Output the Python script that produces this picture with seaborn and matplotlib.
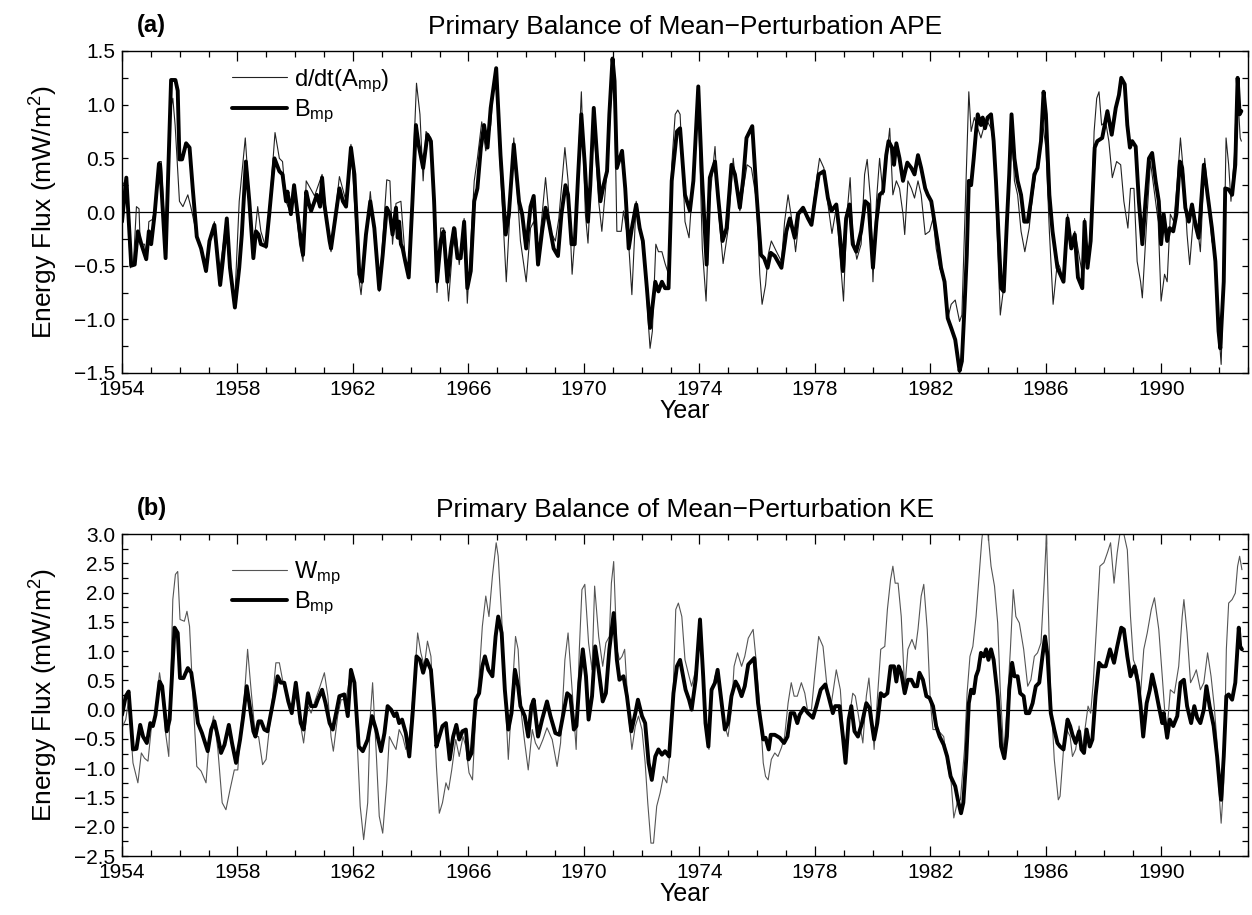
import numpy as np
import pandas as pd
import matplotlib
matplotlib.use("Agg")
import matplotlib.pyplot as plt
from matplotlib.ticker import MultipleLocator, FixedLocator
import seaborn as sns

# ---------------- data (year, mW/m^2) ----------------
a_ddt = [
(1954.00,-0.03),(1954.03,0.25),(1954.15,0.32),(1954.29,-0.52),(1954.40,-0.46),(1954.50,0.05),(1954.59,0.03),
(1954.63,-0.30),(1954.78,-0.30),(1954.86,-0.40),(1954.93,-0.09),(1955.05,-0.07),(1955.16,0.04),(1955.28,0.47),
(1955.36,0.47),(1955.51,-0.34),(1955.65,0.91),(1955.76,1.06),(1955.84,0.81),(1955.99,0.10),(1956.11,0.05),
(1956.28,0.16),(1956.39,0.04),(1956.59,-0.21),(1956.80,-0.40),(1956.91,-0.52),(1957.03,-0.30),(1957.20,-0.09),
(1957.35,-0.61),(1957.49,-0.34),(1957.60,-0.09),(1957.72,-0.52),(1957.91,-0.80),(1958.06,0.10),(1958.27,0.69),
(1958.41,0.13),(1958.55,-0.34),(1958.70,0.05),(1958.81,-0.18),(1958.99,-0.34),(1959.10,0.01),(1959.30,0.74),
(1959.45,0.50),(1959.56,0.47),(1959.68,0.10),(1959.85,-0.02),(1959.96,0.22),(1960.15,-0.30),(1960.27,-0.46),
(1960.38,0.29),(1960.67,0.15),(1960.93,0.35),(1961.19,-0.30),(1961.24,-0.37),(1961.53,0.33),(1961.76,0.10),
(1961.93,0.63),(1962.22,-0.65),(1962.28,-0.77),(1962.60,0.19),(1962.91,-0.74),(1963.17,0.30),(1963.28,0.29),
(1963.37,-0.30),(1963.49,0.08),(1963.66,0.10),(1963.81,-0.43),(1963.93,-0.61),(1964.20,1.20),(1964.32,0.91),
(1964.43,0.29),(1964.53,0.75),(1964.70,0.69),(1964.91,-0.75),(1965.04,-0.15),(1965.14,-0.15),(1965.31,-0.83),
(1965.45,-0.34),(1965.56,-0.15),(1965.68,-0.49),(1965.85,-0.06),(1965.96,-0.85),(1966.20,0.29),(1966.31,0.50),
(1966.46,0.84),(1966.60,0.57),(1966.77,0.81),(1966.89,1.25),(1966.96,1.31),(1967.11,0.38),(1967.31,-0.65),
(1967.57,0.69),(1967.80,-0.27),(1968.00,-0.65),(1968.15,-0.15),(1968.26,-0.09),(1968.44,-0.34),(1968.67,0.32),
(1968.84,-0.18),(1969.01,-0.27),(1969.13,-0.06),(1969.34,0.60),(1969.45,0.29),(1969.59,-0.58),(1969.70,-0.18),
(1969.91,1.12),(1970.05,-0.02),(1970.14,-0.29),(1970.34,0.81),(1970.51,0.10),(1970.62,-0.18),(1970.80,0.38),
(1970.97,1.22),(1971.06,1.03),(1971.14,-0.18),(1971.29,-0.18),(1971.37,0.01),(1971.55,-0.30),(1971.66,-0.77),
(1971.81,0.10),(1971.95,-0.18),(1972.12,-0.43),(1972.21,-0.96),(1972.29,-1.27),(1972.37,-1.11),(1972.49,-0.30),
(1972.58,-0.37),(1972.70,-0.37),(1972.81,-0.48),(1972.93,-0.58),(1973.04,0.44),(1973.16,0.91),(1973.25,0.95),
(1973.33,0.91),(1973.45,0.22),(1973.50,-0.09),(1973.64,-0.24),(1973.79,0.35),(1973.96,1.03),(1974.10,-0.34),
(1974.23,-0.83),(1974.36,0.13),(1974.54,0.61),(1974.67,-0.02),(1974.82,-0.48),(1975.00,-0.15),(1975.17,0.50),
(1975.28,0.22),(1975.40,0.01),(1975.52,0.22),(1975.65,0.44),(1975.80,0.41),(1975.98,0.10),(1976.09,-0.58),
(1976.17,-0.86),(1976.29,-0.68),(1976.38,-0.40),(1976.49,-0.27),(1976.67,-0.37),(1976.84,-0.46),(1976.95,-0.09),
(1977.07,0.16),(1977.24,-0.15),(1977.33,-0.37),(1977.47,-0.02),(1977.62,0.02),(1977.88,-0.09),(1978.05,0.29),
(1978.16,0.50),(1978.31,0.41),(1978.45,0.07),(1978.59,-0.20),(1978.74,0.04),(1978.85,-0.34),(1978.99,-0.83),
(1979.11,-0.02),(1979.22,0.32),(1979.31,-0.21),(1979.45,-0.44),(1979.60,-0.30),(1979.72,0.35),(1979.81,0.49),
(1979.93,0.10),(1980.01,-0.65),(1980.13,0.10),(1980.24,0.50),(1980.36,0.16),(1980.47,0.47),(1980.59,0.78),
(1980.70,0.16),(1980.82,0.29),(1980.93,0.22),(1981.05,-0.02),(1981.11,-0.21),(1981.22,0.29),(1981.34,0.22),
(1981.45,0.13),(1981.57,0.29),(1981.68,0.16),(1981.82,-0.21),(1981.97,-0.18),(1982.09,-0.06),(1982.20,-0.34),
(1982.32,-0.52),(1982.49,-0.65),(1982.60,-0.99),(1982.72,-0.86),(1982.86,-0.82),(1983.01,-1.02),(1983.09,-0.96),
(1983.18,-0.18),(1983.26,0.53),(1983.33,1.12),(1983.41,0.75),(1983.52,0.88),(1983.64,0.78),(1983.75,0.69),
(1983.87,0.81),(1983.98,0.84),(1984.10,0.78),(1984.22,0.60),(1984.33,-0.34),(1984.42,-0.96),(1984.56,-0.65),
(1984.68,0.10),(1984.81,0.84),(1984.91,0.29),(1985.02,0.16),(1985.14,-0.18),(1985.27,-0.37),(1985.42,-0.15),
(1985.54,0.16),(1985.65,0.35),(1985.77,0.47),(1985.88,0.84),(1986.00,0.60),(1986.12,-0.18),(1986.25,-0.86),
(1986.40,-0.46),(1986.49,-0.52),(1986.61,-0.65),(1986.75,-0.02),(1986.88,-0.27),(1987.00,-0.18),(1987.11,-0.34),
(1987.26,-0.58),(1987.34,-0.06),(1987.44,-0.40),(1987.55,-0.27),(1987.67,0.75),(1987.76,1.06),(1987.84,1.12),
(1987.93,0.81),(1988.07,0.84),(1988.18,0.66),(1988.30,0.32),(1988.45,0.47),(1988.59,0.44),(1988.70,0.10),
(1988.84,-0.15),(1988.93,0.22),(1989.05,0.22),(1989.16,-0.46),(1989.28,-0.65),(1989.34,-0.80),(1989.49,-0.09),
(1989.62,0.47),(1989.77,0.16),(1989.89,-0.09),(1989.99,-0.83),(1990.11,-0.58),(1990.20,-0.65),(1990.31,-0.02),
(1990.43,-0.09),(1990.55,0.29),(1990.66,0.69),(1990.78,0.32),(1990.89,-0.21),(1990.98,-0.49),(1991.12,-0.02),
(1991.24,-0.12),(1991.35,-0.37),(1991.50,0.50),(1991.64,0.10),(1991.75,-0.27),(1991.87,-0.40),(1991.98,-1.08),
(1992.07,-1.42),(1992.16,-0.58),(1992.24,0.69),(1992.33,0.44),(1992.41,0.10),(1992.53,0.53),(1992.62,1.22),
(1992.68,0.94),(1992.73,0.69),(1992.77,0.66)]

a_bmp = [
(1954.00,-0.09),(1954.15,0.32),(1954.32,-0.50),(1954.44,-0.49),(1954.55,-0.18),(1954.67,-0.30),(1954.84,-0.44),
(1954.93,-0.18),(1955.01,-0.30),(1955.13,-0.02),(1955.28,0.45),(1955.32,0.44),(1955.51,-0.43),(1955.70,1.23),
(1955.85,1.23),(1955.93,1.13),(1955.99,0.49),(1956.08,0.49),(1956.22,0.64),(1956.34,0.60),(1956.45,0.22),
(1956.59,-0.23),(1956.74,-0.34),(1956.91,-0.55),(1957.03,-0.27),(1957.20,-0.12),(1957.28,-0.34),(1957.40,-0.68),
(1957.49,-0.46),(1957.63,-0.06),(1957.74,-0.52),(1957.91,-0.89),(1958.06,-0.52),(1958.15,-0.21),(1958.29,0.47),
(1958.41,0.10),(1958.55,-0.43),(1958.64,-0.18),(1958.73,-0.21),(1958.81,-0.30),(1958.99,-0.32),(1959.10,-0.02),
(1959.28,0.50),(1959.45,0.38),(1959.56,0.35),(1959.68,0.10),(1959.73,0.19),(1959.85,-0.02),(1959.96,0.25),
(1960.14,-0.15),(1960.27,-0.40),(1960.38,0.19),(1960.47,0.08),(1960.55,0.01),(1960.67,0.10),(1960.75,0.16),
(1960.86,0.05),(1960.93,0.32),(1961.01,0.07),(1961.19,-0.27),(1961.24,-0.34),(1961.42,0.01),(1961.53,0.22),
(1961.65,0.10),(1961.76,0.05),(1961.93,0.60),(1962.05,0.35),(1962.22,-0.58),(1962.31,-0.65),(1962.45,-0.21),
(1962.60,0.10),(1962.74,-0.15),(1962.91,-0.72),(1963.03,-0.40),(1963.17,0.04),(1963.28,-0.02),(1963.37,-0.21),
(1963.49,0.04),(1963.55,-0.24),(1963.60,-0.09),(1963.66,-0.30),(1963.72,-0.34),(1963.81,-0.46),(1963.93,-0.61),
(1964.06,0.10),(1964.18,0.81),(1964.27,0.63),(1964.43,0.41),(1964.58,0.72),(1964.70,0.66),(1964.81,0.10),
(1964.91,-0.65),(1965.04,-0.27),(1965.14,-0.18),(1965.27,-0.65),(1965.39,-0.34),(1965.50,-0.15),(1965.62,-0.43),
(1965.73,-0.43),(1965.85,-0.09),(1965.96,-0.71),(1966.08,-0.55),(1966.20,0.10),(1966.31,0.22),(1966.43,0.60),
(1966.54,0.81),(1966.66,0.60),(1966.77,0.97),(1966.96,1.34),(1967.11,0.53),(1967.29,-0.21),(1967.40,-0.02),
(1967.57,0.63),(1967.75,0.10),(1967.86,-0.02),(1968.00,-0.34),(1968.15,0.05),(1968.26,0.15),(1968.41,-0.49),
(1968.55,-0.18),(1968.67,0.04),(1968.78,-0.09),(1968.95,-0.34),(1969.10,-0.41),(1969.22,-0.02),(1969.36,0.25),
(1969.45,0.16),(1969.57,-0.30),(1969.68,-0.30),(1969.80,0.35),(1969.91,0.91),(1970.03,0.44),(1970.14,-0.09),
(1970.22,0.25),(1970.34,0.97),(1970.45,0.53),(1970.57,0.10),(1970.68,0.25),(1970.80,0.38),(1970.88,0.91),
(1970.99,1.43),(1971.06,1.22),(1971.14,0.41),(1971.32,0.57),(1971.43,0.22),(1971.55,-0.34),(1971.66,-0.15),
(1971.81,0.07),(1971.93,-0.15),(1972.04,-0.27),(1972.18,-0.71),(1972.29,-1.08),(1972.37,-0.89),(1972.47,-0.65),
(1972.58,-0.74),(1972.70,-0.65),(1972.81,-0.71),(1972.93,-0.71),(1973.04,0.29),(1973.22,0.75),(1973.33,0.78),
(1973.50,0.16),(1973.67,0.01),(1973.79,0.29),(1973.96,1.17),(1974.08,0.38),(1974.25,-0.49),(1974.36,0.32),
(1974.54,0.47),(1974.65,0.13),(1974.80,-0.27),(1974.94,-0.15),(1975.11,0.44),(1975.23,0.35),(1975.40,0.04),
(1975.52,0.32),(1975.63,0.69),(1975.83,0.80),(1975.98,0.16),(1976.13,-0.40),(1976.24,-0.43),(1976.36,-0.52),
(1976.47,-0.38),(1976.61,-0.41),(1976.84,-0.52),(1977.01,-0.18),(1977.13,-0.06),(1977.30,-0.24),(1977.41,-0.02),
(1977.59,0.04),(1977.76,-0.06),(1977.88,-0.12),(1978.01,0.13),(1978.13,0.35),(1978.31,0.38),(1978.45,0.13),
(1978.57,0.01),(1978.74,0.07),(1978.85,-0.18),(1978.97,-0.55),(1979.08,-0.06),(1979.20,0.07),(1979.31,-0.30),
(1979.43,-0.37),(1979.60,-0.18),(1979.74,0.10),(1979.86,0.07),(1980.01,-0.52),(1980.13,-0.09),(1980.24,0.16),
(1980.36,0.19),(1980.47,0.53),(1980.55,0.66),(1980.67,0.60),(1980.74,0.44),(1980.82,0.64),(1980.93,0.50),
(1981.05,0.29),(1981.20,0.46),(1981.34,0.41),(1981.45,0.35),(1981.57,0.53),(1981.68,0.41),(1981.82,0.22),
(1981.91,0.16),(1982.03,0.10),(1982.14,-0.09),(1982.26,-0.30),(1982.37,-0.52),(1982.49,-0.65),(1982.60,-0.99),
(1982.72,-1.08),(1982.86,-1.19),(1982.95,-1.36),(1983.01,-1.48),(1983.09,-1.39),(1983.18,-0.89),(1983.26,-0.40),
(1983.33,0.29),(1983.41,0.25),(1983.50,0.50),(1983.58,0.75),(1983.64,0.91),(1983.75,0.81),(1983.81,0.88),
(1983.89,0.78),(1983.98,0.88),(1984.10,0.91),(1984.19,0.66),(1984.27,0.29),(1984.37,-0.27),(1984.45,-0.71),
(1984.54,-0.74),(1984.65,-0.09),(1984.73,0.35),(1984.81,0.91),(1984.91,0.50),(1985.02,0.29),(1985.14,0.16),
(1985.25,-0.09),(1985.37,-0.09),(1985.48,0.10),(1985.60,0.35),(1985.71,0.41),(1985.83,0.66),(1985.92,1.12),
(1986.00,0.91),(1986.12,0.16),(1986.23,-0.18),(1986.40,-0.52),(1986.61,-0.65),(1986.75,-0.06),(1986.88,-0.34),
(1987.00,-0.21),(1987.11,-0.61),(1987.26,-0.71),(1987.34,-0.09),(1987.44,-0.52),(1987.55,-0.27),(1987.69,0.60),
(1987.78,0.66),(1987.95,0.69),(1988.13,0.94),(1988.28,0.72),(1988.42,0.97),(1988.53,1.09),(1988.61,1.25),
(1988.73,1.19),(1988.82,0.81),(1988.91,0.60),(1988.99,0.66),(1989.11,0.61),(1989.22,0.10),(1989.34,-0.30),
(1989.45,0.10),(1989.57,0.50),(1989.68,0.55),(1989.80,0.29),(1989.91,0.10),(1989.99,-0.30),(1990.08,-0.02),
(1990.20,-0.27),(1990.29,-0.15),(1990.41,-0.18),(1990.52,-0.02),(1990.64,0.47),(1990.72,0.41),(1990.83,0.04),
(1990.95,-0.09),(1991.06,0.07),(1991.18,-0.12),(1991.29,-0.24),(1991.47,0.44),(1991.60,0.16),(1991.75,-0.15),
(1991.87,-0.46),(1991.98,-1.11),(1992.04,-1.27),(1992.16,-0.65),(1992.21,0.22),(1992.33,0.21),(1992.45,0.16),
(1992.56,0.44),(1992.64,1.25),(1992.71,0.91),(1992.77,0.94)]

b_wmp = [
(1954.00,-0.31),(1954.13,-0.17),(1954.23,0.17),(1954.38,-0.91),(1954.55,-1.25),(1954.67,-0.74),(1954.78,-0.83),
(1954.90,-0.88),(1955.01,-0.34),(1955.13,-0.17),(1955.30,0.63),(1955.39,0.34),(1955.51,-0.40),(1955.62,-0.80),
(1955.76,1.88),(1955.85,2.31),(1955.93,2.36),(1956.01,1.54),(1956.16,1.51),(1956.25,1.68),(1956.34,1.42),
(1956.45,0.28),(1956.59,-0.97),(1956.74,-1.05),(1956.91,-1.25),(1957.03,-0.46),(1957.17,-0.11),(1957.32,-0.68),
(1957.47,-1.59),(1957.60,-1.71),(1957.74,-1.37),(1957.89,-1.03),(1958.01,-1.03),(1958.12,-0.28),(1958.24,0.23),
(1958.35,1.03),(1958.47,0.34),(1958.62,-0.46),(1958.73,-0.46),(1958.87,-0.94),(1958.99,-0.85),(1959.10,-0.34),
(1959.22,0.23),(1959.33,0.80),(1959.45,0.80),(1959.56,0.51),(1959.68,0.28),(1959.79,0.06),(1959.91,0.11),
(1960.02,0.40),(1960.19,-0.28),(1960.29,-0.57),(1960.44,0.06),(1960.55,-0.06),(1960.70,0.17),(1960.86,0.40),
(1961.01,0.63),(1961.13,0.23),(1961.24,-0.46),(1961.32,-0.71),(1961.47,-0.11),(1961.59,0.17),(1961.76,0.17),
(1961.93,0.68),(1962.05,0.46),(1962.17,-0.80),(1962.25,-1.65),(1962.37,-2.22),(1962.51,-1.59),(1962.60,-0.11),
(1962.68,0.46),(1962.80,-0.68),(1962.91,-1.82),(1963.03,-2.11),(1963.17,-1.25),(1963.26,-0.46),(1963.37,-0.57),
(1963.49,-0.68),(1963.60,-0.34),(1963.72,-0.46),(1963.83,-0.68),(1963.95,-0.46),(1964.12,0.46),(1964.24,1.31),
(1964.35,0.97),(1964.47,0.74),(1964.58,1.17),(1964.70,0.91),(1964.81,-0.11),(1964.89,-0.97),(1964.99,-1.77),
(1965.10,-1.59),(1965.22,-1.25),(1965.31,-1.37),(1965.42,-1.03),(1965.56,-0.51),(1965.68,-0.80),(1965.81,-0.46),
(1965.91,-0.63),(1966.02,-1.08),(1966.14,-1.20),(1966.25,-0.11),(1966.37,0.57),(1966.48,1.42),(1966.60,1.94),
(1966.71,1.59),(1966.83,2.28),(1966.96,2.85),(1967.03,2.62),(1967.15,1.59),(1967.26,0.34),(1967.38,-0.85),
(1967.52,0.34),(1967.63,1.25),(1967.72,1.03),(1967.84,-0.11),(1967.95,-0.57),(1968.07,-1.03),(1968.21,-0.34),
(1968.32,-0.57),(1968.44,-0.68),(1968.58,-0.51),(1968.72,-0.31),(1968.90,-0.51),(1969.07,-0.97),(1969.19,-0.57),
(1969.34,0.85),(1969.45,1.31),(1969.59,0.34),(1969.73,-0.68),(1969.84,1.03),(1969.93,2.05),(1970.03,2.14),
(1970.16,1.14),(1970.28,0.68),(1970.37,2.11),(1970.51,1.25),(1970.65,0.74),(1970.76,1.14),(1970.88,1.25),
(1970.95,2.16),(1971.03,2.53),(1971.14,1.03),(1971.23,0.85),(1971.32,0.91),(1971.41,1.03),(1971.55,-0.11),
(1971.66,-0.68),(1971.78,-0.28),(1971.89,-0.11),(1972.01,-0.34),(1972.12,-0.91),(1972.21,-1.59),(1972.32,-2.28),
(1972.41,-2.28),(1972.52,-1.65),(1972.64,-1.42),(1972.75,-1.14),(1972.87,-1.25),(1972.99,-0.68),(1973.10,0.46),
(1973.18,1.71),(1973.27,1.82),(1973.39,1.59),(1973.50,0.85),(1973.64,0.57),(1973.73,0.40),(1973.87,0.68),
(1974.02,1.42),(1974.13,0.34),(1974.25,-0.46),(1974.33,-0.68),(1974.42,0.23),(1974.54,0.57),(1974.63,0.68),
(1974.77,0.11),(1974.88,-0.28),(1974.99,-0.46),(1975.11,0.00),(1975.20,0.74),(1975.32,0.97),(1975.46,0.74),
(1975.57,0.91),(1975.69,1.22),(1975.86,1.37),(1975.95,0.91),(1976.09,0.06),(1976.21,-0.91),(1976.29,-1.14),
(1976.38,-1.20),(1976.49,-0.85),(1976.61,-0.74),(1976.72,-0.80),(1976.84,-0.65),(1976.95,-0.46),(1977.07,0.11),
(1977.18,0.46),(1977.28,0.23),(1977.39,0.23),(1977.53,0.46),(1977.65,0.28),(1977.74,0.00),(1977.88,0.00),
(1977.99,0.57),(1978.13,1.25),(1978.28,1.08),(1978.43,0.34),(1978.57,0.11),(1978.74,0.68),(1978.88,0.34),
(1978.99,-0.46),(1979.08,-0.91),(1979.20,-0.11),(1979.31,0.28),(1979.40,0.23),(1979.55,-0.23),(1979.66,-0.57),
(1979.78,0.23),(1979.87,0.54),(1979.96,0.00),(1980.05,-0.68),(1980.16,0.17),(1980.28,1.03),(1980.42,1.08),
(1980.51,1.71),(1980.62,2.22),(1980.70,2.45),(1980.78,2.16),(1980.88,2.16),(1980.99,1.59),(1981.11,0.34),
(1981.22,1.03),(1981.36,1.20),(1981.48,1.03),(1981.57,1.37),(1981.68,1.94),(1981.77,2.14),(1981.89,1.37),
(1982.00,0.11),(1982.09,-0.34),(1982.20,-0.34),(1982.35,-0.40),(1982.46,-0.46),(1982.60,-0.97),(1982.72,-1.25),
(1982.81,-1.85),(1982.93,-1.59),(1983.04,-1.54),(1983.18,-0.68),(1983.27,0.28),(1983.37,0.91),(1983.47,1.08),
(1983.58,1.59),(1983.70,2.39),(1983.78,2.90),(1983.87,3.30),(1983.97,3.15),(1984.10,2.45),(1984.22,2.11),
(1984.33,1.48),(1984.42,0.34),(1984.54,-0.74),(1984.65,0.00),(1984.77,1.03),(1984.87,2.05),(1984.96,1.59),
(1985.08,1.48),(1985.23,1.03),(1985.37,0.40),(1985.48,0.51),(1985.60,0.91),(1985.71,0.97),(1985.83,1.14),
(1985.94,2.16),(1986.02,3.00),(1986.15,0.46),(1986.29,-0.85),(1986.43,-1.54),(1986.49,-1.48),(1986.61,-0.68),
(1986.72,-0.34),(1986.84,-0.46),(1986.92,-0.80),(1987.03,-0.68),(1987.15,-0.28),(1987.26,-0.68),(1987.38,-0.23),
(1987.46,0.06),(1987.55,-0.06),(1987.64,0.46),(1987.76,1.48),(1987.87,2.45),(1988.01,2.51),(1988.13,2.68),
(1988.24,2.85),(1988.36,2.16),(1988.47,2.68),(1988.59,3.10),(1988.70,3.00),(1988.82,2.73),(1988.93,1.59),
(1989.03,0.85),(1989.16,0.68),(1989.28,0.28),(1989.39,1.03),(1989.51,1.31),(1989.65,1.71),(1989.76,1.91),
(1989.91,1.37),(1990.03,0.57),(1990.18,-0.46),(1990.31,0.34),(1990.45,0.28),(1990.60,0.74),(1990.72,1.59),
(1990.78,1.88),(1990.89,1.31),(1991.01,0.46),(1991.12,0.57),(1991.21,0.68),(1991.35,0.34),(1991.47,0.46),
(1991.60,0.97),(1991.72,0.57),(1991.83,0.06),(1991.93,-0.57),(1991.99,-1.37),(1992.07,-1.94),(1992.16,-1.25),
(1992.25,1.03),(1992.33,1.82),(1992.45,1.88),(1992.56,1.99),(1992.64,2.45),(1992.71,2.62),(1992.79,2.39)]

b_bmp = [
(1954.00,-0.09),(1954.13,0.23),(1954.23,0.31),(1954.38,-0.68),(1954.50,-0.67),(1954.63,-0.26),(1954.73,-0.46),
(1954.86,-0.57),(1954.98,-0.23),(1955.07,-0.28),(1955.16,-0.09),(1955.30,0.48),(1955.39,0.40),(1955.55,-0.37),
(1955.65,-0.17),(1955.82,1.40),(1955.93,1.31),(1956.01,0.54),(1956.13,0.54),(1956.28,0.71),(1956.40,0.63),
(1956.51,0.23),(1956.63,-0.23),(1956.77,-0.40),(1956.97,-0.71),(1957.09,-0.34),(1957.20,-0.20),(1957.32,-0.46),
(1957.43,-0.74),(1957.55,-0.60),(1957.70,-0.26),(1957.81,-0.57),(1957.95,-0.91),(1958.09,-0.51),(1958.20,-0.11),
(1958.32,0.40),(1958.41,0.11),(1958.55,-0.37),(1958.62,-0.46),(1958.73,-0.20),(1958.82,-0.20),(1958.93,-0.34),
(1959.04,-0.37),(1959.16,-0.06),(1959.27,0.23),(1959.39,0.57),(1959.50,0.46),(1959.62,0.46),(1959.76,0.14),
(1959.88,-0.06),(1960.02,0.46),(1960.19,-0.23),(1960.29,-0.34),(1960.44,0.28),(1960.55,0.06),(1960.70,0.06),
(1960.78,0.17),(1960.93,0.34),(1961.05,0.11),(1961.19,-0.23),(1961.30,-0.34),(1961.44,0.00),(1961.53,0.23),
(1961.70,0.26),(1961.82,-0.11),(1961.93,0.68),(1962.05,0.46),(1962.20,-0.63),(1962.34,-0.71),(1962.51,-0.51),
(1962.66,-0.11),(1962.80,-0.34),(1962.97,-0.71),(1963.09,-0.40),(1963.20,0.06),(1963.32,0.00),(1963.43,-0.11),
(1963.51,-0.06),(1963.60,-0.23),(1963.70,-0.17),(1963.83,-0.40),(1963.95,-0.80),(1964.06,-0.11),(1964.20,0.91),
(1964.32,0.85),(1964.43,0.63),(1964.55,0.85),(1964.70,0.68),(1964.81,0.00),(1964.89,-0.63),(1964.99,-0.46),
(1965.10,-0.28),(1965.22,-0.23),(1965.35,-0.85),(1965.47,-0.46),(1965.58,-0.26),(1965.68,-0.51),(1965.79,-0.37),
(1965.91,-0.34),(1966.00,-0.85),(1966.11,-0.74),(1966.25,0.17),(1966.37,0.28),(1966.48,0.74),(1966.57,0.91),
(1966.69,0.68),(1966.83,0.57),(1966.94,1.25),(1967.03,1.59),(1967.15,1.31),(1967.26,0.34),(1967.38,-0.34),
(1967.49,-0.06),(1967.61,0.68),(1967.72,0.40),(1967.80,0.06),(1967.95,-0.11),(1968.07,-0.46),(1968.18,0.06),
(1968.26,0.17),(1968.41,-0.46),(1968.55,-0.17),(1968.72,0.14),(1968.84,-0.11),(1969.01,-0.40),(1969.15,-0.43),
(1969.27,-0.11),(1969.42,0.28),(1969.53,0.23),(1969.65,-0.34),(1969.74,-0.28),(1969.84,0.46),(1969.96,1.03),
(1970.07,0.57),(1970.16,-0.17),(1970.28,0.23),(1970.39,1.08),(1970.51,0.68),(1970.65,0.14),(1970.76,0.28),
(1970.88,1.03),(1971.03,1.65),(1971.14,0.85),(1971.23,0.51),(1971.37,0.57),(1971.49,0.23),(1971.64,-0.37),
(1971.78,-0.06),(1971.87,0.17),(1972.01,-0.11),(1972.12,-0.23),(1972.24,-0.91),(1972.35,-1.20),(1972.47,-0.80),
(1972.58,-0.68),(1972.70,-0.77),(1972.81,-0.71),(1972.95,-0.80),(1973.10,0.28),(1973.22,0.74),(1973.33,0.85),
(1973.52,0.34),(1973.64,0.17),(1973.73,0.00),(1973.87,0.51),(1974.02,1.54),(1974.13,0.57),(1974.21,-0.23),
(1974.31,-0.63),(1974.42,0.34),(1974.54,0.46),(1974.63,0.68),(1974.74,0.23),(1974.88,-0.34),(1974.99,-0.23),
(1975.11,0.23),(1975.25,0.48),(1975.34,0.40),(1975.46,0.23),(1975.57,0.40),(1975.69,0.77),(1975.90,0.88),
(1976.03,0.11),(1976.21,-0.51),(1976.29,-0.48),(1976.40,-0.68),(1976.47,-0.43),(1976.61,-0.43),(1976.78,-0.48),
(1976.93,-0.57),(1977.05,-0.46),(1977.16,-0.06),(1977.28,-0.06),(1977.39,-0.23),(1977.47,-0.09),(1977.62,0.03),
(1977.76,-0.06),(1977.93,-0.14),(1978.05,0.06),(1978.20,0.34),(1978.36,0.43),(1978.47,0.23),(1978.62,-0.06),
(1978.70,0.06),(1978.85,0.06),(1978.97,-0.46),(1979.06,-0.91),(1979.17,-0.17),(1979.26,0.06),(1979.37,-0.37),
(1979.49,-0.46),(1979.63,-0.23),(1979.78,0.11),(1979.89,0.03),(1980.05,-0.51),(1980.16,-0.23),(1980.28,0.28),
(1980.39,0.23),(1980.51,0.28),(1980.62,0.74),(1980.74,0.74),(1980.82,0.48),(1980.90,0.74),(1980.99,0.63),
(1981.11,0.28),(1981.22,0.51),(1981.34,0.51),(1981.45,0.40),(1981.54,0.40),(1981.62,0.63),(1981.74,0.51),
(1981.86,0.23),(1981.97,0.20),(1982.09,0.06),(1982.20,-0.28),(1982.32,-0.46),(1982.46,-0.60),(1982.58,-0.80),
(1982.70,-1.14),(1982.86,-1.31),(1982.95,-1.54),(1983.06,-1.77),(1983.14,-1.59),(1983.24,-0.85),(1983.33,0.11),
(1983.41,0.34),(1983.50,0.28),(1983.58,0.57),(1983.66,0.68),(1983.75,0.97),(1983.85,0.91),(1983.93,1.03),
(1984.01,0.85),(1984.10,1.03),(1984.19,0.85),(1984.33,0.23),(1984.45,-0.63),(1984.56,-0.83),(1984.65,-0.46),
(1984.73,0.34),(1984.83,0.80),(1984.91,0.57),(1985.02,0.57),(1985.11,0.28),(1985.23,0.23),(1985.31,-0.06),
(1985.42,-0.06),(1985.54,0.11),(1985.65,0.40),(1985.77,0.46),(1985.88,0.91),(1985.97,1.25),(1986.06,0.91),
(1986.17,-0.06),(1986.29,-0.34),(1986.40,-0.57),(1986.49,-0.63),(1986.61,-0.68),(1986.75,-0.17),(1986.84,-0.28),
(1986.92,-0.43),(1987.03,-0.57),(1987.15,-0.37),(1987.23,-0.68),(1987.32,-0.74),(1987.41,-0.34),(1987.52,-0.63),
(1987.61,-0.51),(1987.72,0.23),(1987.84,0.80),(1987.95,0.74),(1988.07,0.74),(1988.22,1.03),(1988.36,0.80),
(1988.47,1.08),(1988.61,1.40),(1988.70,1.37),(1988.82,0.91),(1988.93,0.57),(1989.07,0.74),(1989.19,0.46),
(1989.28,0.06),(1989.37,-0.46),(1989.49,0.11),(1989.60,0.34),(1989.68,0.60),(1989.80,0.34),(1989.91,0.06),
(1990.03,-0.23),(1990.08,-0.06),(1990.20,-0.48),(1990.29,-0.17),(1990.41,-0.28),(1990.55,-0.11),(1990.66,0.46),
(1990.78,0.51),(1990.89,0.06),(1991.03,-0.23),(1991.14,0.06),(1991.24,-0.14),(1991.35,-0.23),(1991.47,0.00),
(1991.56,0.40),(1991.67,0.06),(1991.81,-0.28),(1991.93,-0.80),(1992.02,-1.31),(1992.07,-1.54),(1992.16,-0.80),
(1992.25,0.23),(1992.33,0.26),(1992.45,0.17),(1992.56,0.46),(1992.68,1.40),(1992.73,1.08),(1992.79,1.03)]

panel_titles = ["Primary Balance of Mean\u2212Perturbation APE",
                "Primary Balance of Mean\u2212Perturbation KE"]
panel_tags = ["(a)", "(b)"]
thin_labels = [r"d/dt(A$_{\rm mp}$)", r"W$_{\rm mp}$"]
thick_label = r"B$_{\rm mp}$"
ylims = [(-1.5, 1.5), (-2.5, 3.0)]
year_ticks = [1954, 1958, 1962, 1966, 1970, 1974, 1978, 1982, 1986, 1990]

# ---------------- styling ----------------
sns.set_theme(style="ticks")
plt.rcParams["font.family"] = ["Liberation Sans", "DejaVu Sans"]
plt.rcParams["mathtext.fontset"] = "custom"
plt.rcParams["mathtext.rm"] = "Liberation Sans"
plt.rcParams["mathtext.it"] = "Liberation Sans:italic"
plt.rcParams["axes.unicode_minus"] = True
plt.rcParams["text.color"] = "black"
plt.rcParams["axes.labelcolor"] = "black"

fig = plt.figure(figsize=(12.52, 9.15), dpi=100)
W, H = 1252.0, 915.0
left, right = 122, 1248
boxes = [(51, 373), (534, 856)]

series = [(a_ddt, a_bmp), (b_wmp, b_bmp)]
thin_colors = ["#222222", "#555555"]

for i, ((thin, thick), (top, bot)) in enumerate(zip(series, boxes)):
    ax = fig.add_axes([left / W, 1 - bot / H, (right - left) / W, (bot - top) / H])
    d_thin = pd.DataFrame(thin, columns=["year", "flux"])
    d_thick = pd.DataFrame(thick, columns=["year", "flux"])
    ax.axhline(0, color="black", lw=0.9, zorder=1)
    sns.lineplot(data=d_thin, x="year", y="flux", ax=ax, color=thin_colors[i], lw=0.8,
                 estimator=None, sort=False, label=thin_labels[i], zorder=2)
    sns.lineplot(data=d_thick, x="year", y="flux", ax=ax, color="black", lw=2.8,
                 estimator=None, sort=False, label=thick_label, zorder=3)
    ax.set_xlim(1954, 1993)
    ax.set_ylim(*ylims[i])
    ax.xaxis.set_major_locator(FixedLocator(year_ticks))
    ax.xaxis.set_minor_locator(MultipleLocator(1))
    ax.yaxis.set_major_locator(MultipleLocator(0.5))
    ax.yaxis.set_minor_locator(MultipleLocator(0.25))
    ax.tick_params(axis="both", which="both", direction="in", top=True, right=True,
                   labelsize=15, colors="black", width=0.9)
    ax.tick_params(axis="x", which="major", length=7, pad=5)
    ax.tick_params(axis="x", which="minor", length=4)
    ax.tick_params(axis="y", which="both", length=4, pad=5)
    for s in ax.spines.values():
        s.set_color("black")
        s.set_linewidth(1.0)
    ax.set_xlabel("Year", fontsize=18, labelpad=0, color="black")
    ax.set_ylabel("Energy Flux (mW/m$^2$)", fontsize=19, labelpad=10, color="black")
    ax.set_title(panel_titles[i], fontsize=19, pad=12, color="black")
    ax.text(0.013, 1.045, panel_tags[i], transform=ax.transAxes, fontsize=17,
            fontweight="bold", ha="left", va="bottom", color="black")
    leg_y = 0.95 if i == 0 else 0.92
    leg = ax.legend(loc="upper left", bbox_to_anchor=(0.098, leg_y), frameon=False,
                    fontsize=17, handlelength=2.3, handletextpad=0.3, labelspacing=0.12,
                    borderaxespad=0, borderpad=0)
    for t in leg.get_texts():
        t.set_color("black")

fig.savefig("out.png", dpi=100, facecolor="white")
